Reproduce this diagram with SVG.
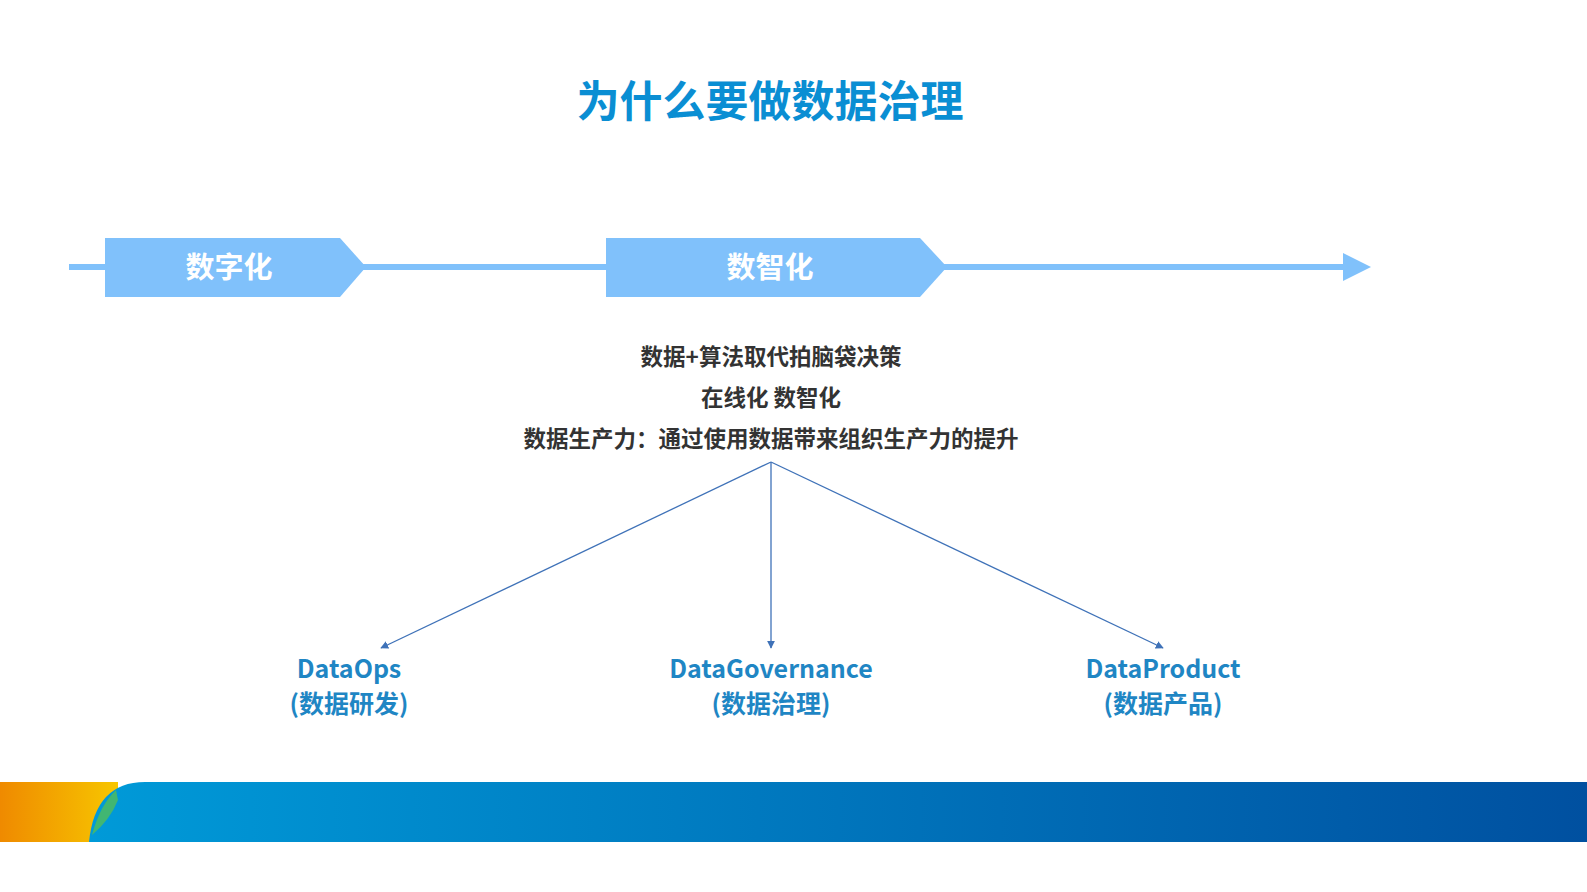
<svg xmlns="http://www.w3.org/2000/svg" width="1587" height="892" viewBox="0 0 1587 892">
<defs>
<linearGradient id="og" x1="0" x2="1"><stop offset="0" stop-color="#ef8a00"/><stop offset="1" stop-color="#f7c600"/></linearGradient>
<linearGradient id="bg" x1="0" x2="1"><stop offset="0" stop-color="#009ad8"/><stop offset="1" stop-color="#0050a0"/></linearGradient>
<marker id="ah" viewBox="0 0 10 10" refX="9" refY="5" markerWidth="8" markerHeight="8" orient="auto" markerUnits="userSpaceOnUse"><path d="M0,0L10,5L0,10z" fill="#3f72b8"/></marker>
<style>
text{font-family:"Noto Sans CJK SC","Noto Sans",sans-serif;font-weight:bold;text-anchor:middle}
.c{fill:#333;font-size:22.5px}
.b{fill:#1f86c4;font-size:25px}
.w{fill:#fff;font-size:29px}
.l{stroke:#3f72b8;stroke-width:1.3;fill:none;marker-end:url(#ah)}
</style>
</defs>
<rect width="1587" height="892" fill="#fff"/>
<text x="770" y="117" fill="#0a8ed3" font-size="43">为什么要做数据治理</text>
<g id="timeline">
<rect x="69" y="264" width="1280" height="6" fill="#80c1fb"/>
<path d="M1343,253L1371,267L1343,281z" fill="#80c1fb"/>
</g>
<g id="n1"><path d="M105,238H340L366,267L340,297H105z" fill="#80c1fb"/><text class="w" x="229" y="278">数字化</text></g>
<g id="n2"><path d="M606,238H920L947,267L920,297H606z" fill="#80c1fb"/><text class="w" x="770" y="278">数智化</text></g>
<g id="desc">
<text class="c" x="771" y="365">数据+算法取代拍脑袋决策</text>
<text class="c" x="771" y="406">在线化 数智化</text>
<text class="c" x="771" y="447">数据生产力：通过使用数据带来组织生产力的提升</text>
</g>
<g id="connectors">
<line class="l" x1="771" y1="462" x2="381" y2="648"/>
<line class="l" x1="771" y1="462" x2="771" y2="648"/>
<line class="l" x1="771" y1="462" x2="1163" y2="648"/>
</g>
<g id="o1"><text class="b" x="349" y="678">DataOps</text><text class="b" x="349" y="713">(数据研发)</text></g>
<g id="o2"><text class="b" x="771" y="678">DataGovernance</text><text class="b" x="771" y="713">(数据治理)</text></g>
<g id="o3"><text class="b" x="1163" y="678">DataProduct</text><text class="b" x="1163" y="713">(数据产品)</text></g>
<g id="footer">
<path d="M0,782H118V812Q118,842 88,842H0z" fill="url(#og)"/>
<path d="M89,842Q95,782 145,782H1587V842z" fill="url(#bg)"/>
<path d="M116,790Q100,805 92,835Q110,820 118,800z" fill="#4cbb60" opacity="0.85"/>
</g>
</svg>
